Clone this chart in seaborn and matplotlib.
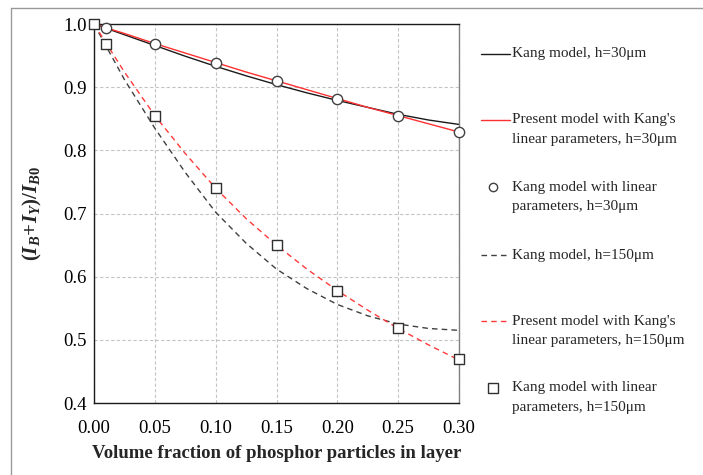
import matplotlib
matplotlib.use("Agg")
import matplotlib.pyplot as plt
import seaborn as sns
import pandas as pd
from matplotlib.lines import Line2D


# Data

x_curve = [0.0, 0.025, 0.05, 0.075, 0.10, 0.125, 0.15, 0.175, 0.20, 0.225, 0.25, 0.275, 0.30]
kang_30 = [1.0, 0.983, 0.966, 0.949, 0.933, 0.918, 0.904, 0.891, 0.879, 0.868, 0.857, 0.848, 0.841]
present_30 = [1.0, 0.985, 0.969, 0.954, 0.939, 0.924, 0.910, 0.896, 0.882, 0.868, 0.855, 0.842, 0.829]
kang_150 = [1.0, 0.912, 0.835, 0.765, 0.702, 0.653, 0.612, 0.581, 0.556, 0.538, 0.525, 0.518, 0.515]
present_150 = [1.0, 0.924, 0.855, 0.795, 0.740, 0.692, 0.650, 0.612, 0.578, 0.547, 0.518, 0.492, 0.468]

x_pts = [0.0, 0.01, 0.05, 0.10, 0.15, 0.20, 0.25, 0.30]
circles_30 = [None, 0.994, 0.969, 0.939, 0.909, 0.881, 0.855, 0.829]
squares_150 = [1.0, 0.969, 0.855, 0.740, 0.650, 0.578, 0.518, 0.469]

legend_labels = [
    ["Kang model, h=30\u03bcm"],
    ["Present model with Kang's", "linear parameters, h=30\u03bcm"],
    ["Kang model with linear", "parameters, h=30\u03bcm"],
    ["Kang model, h=150\u03bcm"],
    ["Present model with Kang's", "linear parameters, h=150\u03bcm"],
    ["Kang model with linear", "parameters, h=150\u03bcm"],
]


# Style

sns.set_style("white")
plt.rcParams["font.family"] = ["Liberation Serif", "DejaVu Serif"]
plt.rcParams["mathtext.fontset"] = "custom"
plt.rcParams["mathtext.it"] = "Liberation Serif:italic:bold"
plt.rcParams["mathtext.rm"] = "Liberation Serif:bold"

W, H = 703, 475
fig = plt.figure(figsize=(W / 100, H / 100), dpi=100)
ax = fig.add_axes([94 / W, 1 - 403 / H, (459 - 94) / W, (403 - 24) / H])

curves = pd.DataFrame({
    "x": x_curve,
    "k30": kang_30,
    "p30": present_30,
    "k150": kang_150,
    "p150": present_150,
})
pts = pd.DataFrame({"x": x_pts, "c30": circles_30, "s150": squares_150})

sns.lineplot(data=curves, x="x", y="k30", ax=ax, color="#1a1a1a", lw=1.0)
sns.lineplot(data=curves, x="x", y="p30", ax=ax, color="#ff3030", lw=1.0)
sns.lineplot(data=curves, x="x", y="k150", ax=ax, color="#404040", lw=1.0,
             linestyle=(0, (4, 3)))
sns.lineplot(data=curves, x="x", y="p150", ax=ax, color="#ff3a3a", lw=1.0,
             linestyle=(0, (4, 3)))

sns.scatterplot(data=pts.dropna(subset=["c30"]), x="x", y="c30", ax=ax,
                marker="o", s=55, facecolor="white", edgecolor="#404040",
                linewidth=1.0, zorder=5, clip_on=False)
sns.scatterplot(data=pts, x="x", y="s150", ax=ax,
                marker="s", s=60, facecolor="white", edgecolor="#303030",
                linewidth=1.0, zorder=5, clip_on=False)

ax.set_xlim(0, 0.30)
ax.set_ylim(0.4, 1.0)
ax.set_xticks([0.0, 0.05, 0.10, 0.15, 0.20, 0.25, 0.30])
ax.set_xticklabels(["0.00", "0.05", "0.10", "0.15", "0.20", "0.25", "0.30"])
ax.set_yticks([0.4, 0.5, 0.6, 0.7, 0.8, 0.9, 1.0])
ax.set_yticklabels(["0.4", "0.5", "0.6", "0.7", "0.8", "0.9", "1.0"])
ax.tick_params(axis="both", length=0, labelsize=13.5, colors="#000000")
ax.tick_params(axis="x", pad=12)
ax.tick_params(axis="y", pad=5)

ax.grid(True, color="#c4c4c4", linestyle=(0, (3, 2)), linewidth=0.8)
ax.set_axisbelow(True)
for side in ["left", "bottom", "top"]:
    ax.spines[side].set_color("#1a1a1a")
    ax.spines[side].set_linewidth(1.0)
ax.spines["right"].set_color("#808080")
ax.spines["right"].set_linewidth(1.0)

ax.set_xlabel("Volume fraction of phosphor particles in layer",
              fontsize=13.5, fontweight="bold", labelpad=6)
ax.set_ylabel(r"$\mathit{(I_B\!+\!I_Y)/I_{B0}}$", fontsize=15, labelpad=14)


# Legend drawn by hand (uneven spacing in the reference)

def fx(px):
    return px / W


def fy(py):
    return 1 - py / H


handle_y = [54, 120, 187, 255, 321, 388]
for i, (lines, hy) in enumerate(zip(legend_labels, handle_y)):
    for j, txt in enumerate(lines):
        fig.text(fx(512), fy(hy + 19.5 * j), txt, fontsize=11,
                 va="center", ha="left")
    if i == 0:
        fig.add_artist(Line2D([fx(481), fx(510)], [fy(hy)] * 2,
                              color="#1a1a1a", lw=1.0))
    elif i == 1:
        fig.add_artist(Line2D([fx(481), fx(510)], [fy(hy)] * 2,
                              color="#ff3030", lw=1.0))
    elif i == 2:
        fig.add_artist(Line2D([fx(493)], [fy(hy)], marker="o", ms=6,
                              mfc="white", mec="#404040", lw=0))
    elif i == 3:
        fig.add_artist(Line2D([fx(481), fx(510)], [fy(hy)] * 2,
                              color="#404040", lw=1.0, linestyle=(0, (4, 3))))
    elif i == 4:
        fig.add_artist(Line2D([fx(481), fx(510)], [fy(hy)] * 2,
                              color="#ff3a3a", lw=1.0, linestyle=(0, (4, 3))))
    else:
        fig.add_artist(Line2D([fx(493)], [fy(hy)], marker="s", ms=6.5,
                              mfc="white", mec="#303030", lw=0))


# Outer frame (top and left edges only visible)

fig.add_artist(Line2D([fx(11), fx(703)], [fy(8), fy(8)], color="#9a9a9a", lw=1.0))
fig.add_artist(Line2D([fx(11), fx(11)], [fy(8), fy(476)], color="#9a9a9a", lw=1.0))

fig.savefig("out.png", dpi=100)
